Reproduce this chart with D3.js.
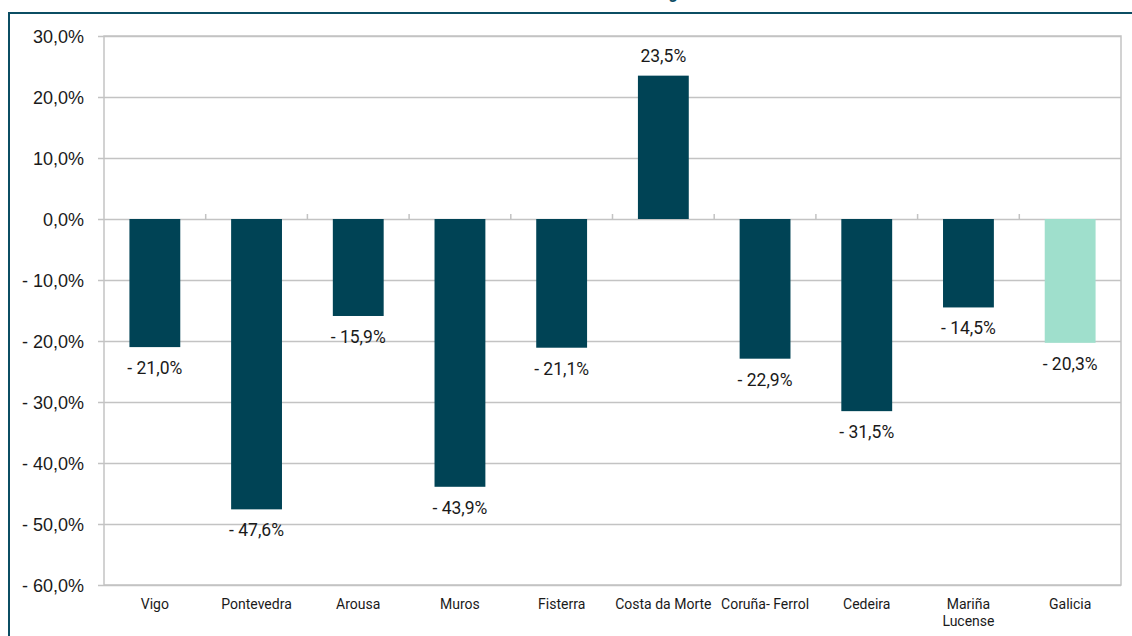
<!DOCTYPE html>
<html><head><meta charset="utf-8">
<script src="https://cdn.jsdelivr.net/npm/d3@7"></script>
<style>body{margin:0;background:#fff}svg{display:block;font-family:Roboto,"Noto Sans",sans-serif}</style>
</head><body><svg id="c" width="1132" height="636"></svg>
<script>
const categories = ["Vigo","Pontevedra","Arousa","Muros","Fisterra","Costa da Morte","Coruña- Ferrol","Cedeira","Mariña Lucense","Galicia"];
const values = [-21.0,-47.6,-15.9,-43.9,-21.1,23.5,-22.9,-31.5,-14.5,-20.3];
const yTicks = [30,20,10,0,-10,-20,-30,-40,-50,-60];
const barColors = ["#004355","#004355","#004355","#004355","#004355","#004355","#004355","#004355","#004355","#9fdfcc"];

const svg = d3.select("#c");
const m = {l:104, r:1121, t:36, b:585};
const x = d3.scaleBand().domain(categories).range([m.l, m.r]).paddingInner(0.5).paddingOuter(0.25);
const xb = d3.scaleBand().domain(categories).range([m.l, m.r]);
const y = d3.scaleLinear().domain([-60,30]).range([m.b, m.t]);
const fmt = v => (v<0 ? "- " : "") + Math.abs(v).toFixed(1).replace(".", ",") + "%";

// outer border + title fragment
svg.append("path").attr("d","M9,636 V13 H1132").attr("fill","none").attr("stroke","#0b4d63").attr("stroke-width",2);
svg.append("text").attr("x",673).attr("y",-1).attr("text-anchor","middle").attr("font-weight","bold").attr("font-size",16).attr("fill","#0b4d63").text("g");

// gridlines
const yAxis = d3.axisLeft(y).tickValues(yTicks).tickSize(-(m.r-m.l)).tickSizeOuter(0).tickPadding(0).tickFormat(fmt);
const gy = svg.append("g").attr("transform",`translate(${m.l},0)`).call(yAxis);
gy.select(".domain").remove();
gy.selectAll(".tick line").attr("stroke","#c3c3c3").attr("stroke-width",1.5).attr("x1",-6);
gy.selectAll(".tick text").attr("x",-20).attr("font-size",18).attr("fill","#1a1a1a").attr("dy","0.34em");
// plot border
svg.append("rect").attr("x",m.l).attr("y",m.t).attr("width",m.r-m.l).attr("height",m.b-m.t).attr("fill","none").attr("stroke","#c3c3c3").attr("stroke-width",1.5);
// category boundary ticks at zero line
svg.append("g").selectAll("line").data(categories.slice(1)).join("line")
  .attr("x1",d=>xb(d)).attr("x2",d=>xb(d)).attr("y1",y(0)-5).attr("y2",y(0)).attr("stroke","#c3c3c3").attr("stroke-width",1.5);

// bars
svg.append("g").selectAll("rect").data(values).join("rect")
  .attr("x",(d,i)=>x(categories[i])).attr("width",x.bandwidth())
  .attr("y",d=>y(Math.max(0,d))).attr("height",d=>Math.abs(y(d)-y(0)))
  .attr("fill",(d,i)=>barColors[i]);

// data labels
svg.append("g").selectAll("text").data(values).join("text")
  .attr("x",(d,i)=>x(categories[i])+x.bandwidth()/2)
  .attr("y",d=> d<0 ? y(d)+27 : y(d)-14)
  .attr("text-anchor","middle").attr("font-size",17.5).attr("fill","#1a1a1a").text(d=>fmt(d));

// category labels
const gx = svg.append("g");
categories.forEach(c=>{
  const words = c==="Mariña Lucense" ? ["Mariña","Lucense"] : [c];
  const t = gx.append("text").attr("x",xb(c)+xb.bandwidth()/2).attr("y",609).attr("text-anchor","middle").attr("font-size",14).attr("fill","#1a1a1a");
  words.forEach((w,i)=>t.append("tspan").attr("x",xb(c)+xb.bandwidth()/2).attr("dy",i?17:0).text(w));
});
</script></body></html>
